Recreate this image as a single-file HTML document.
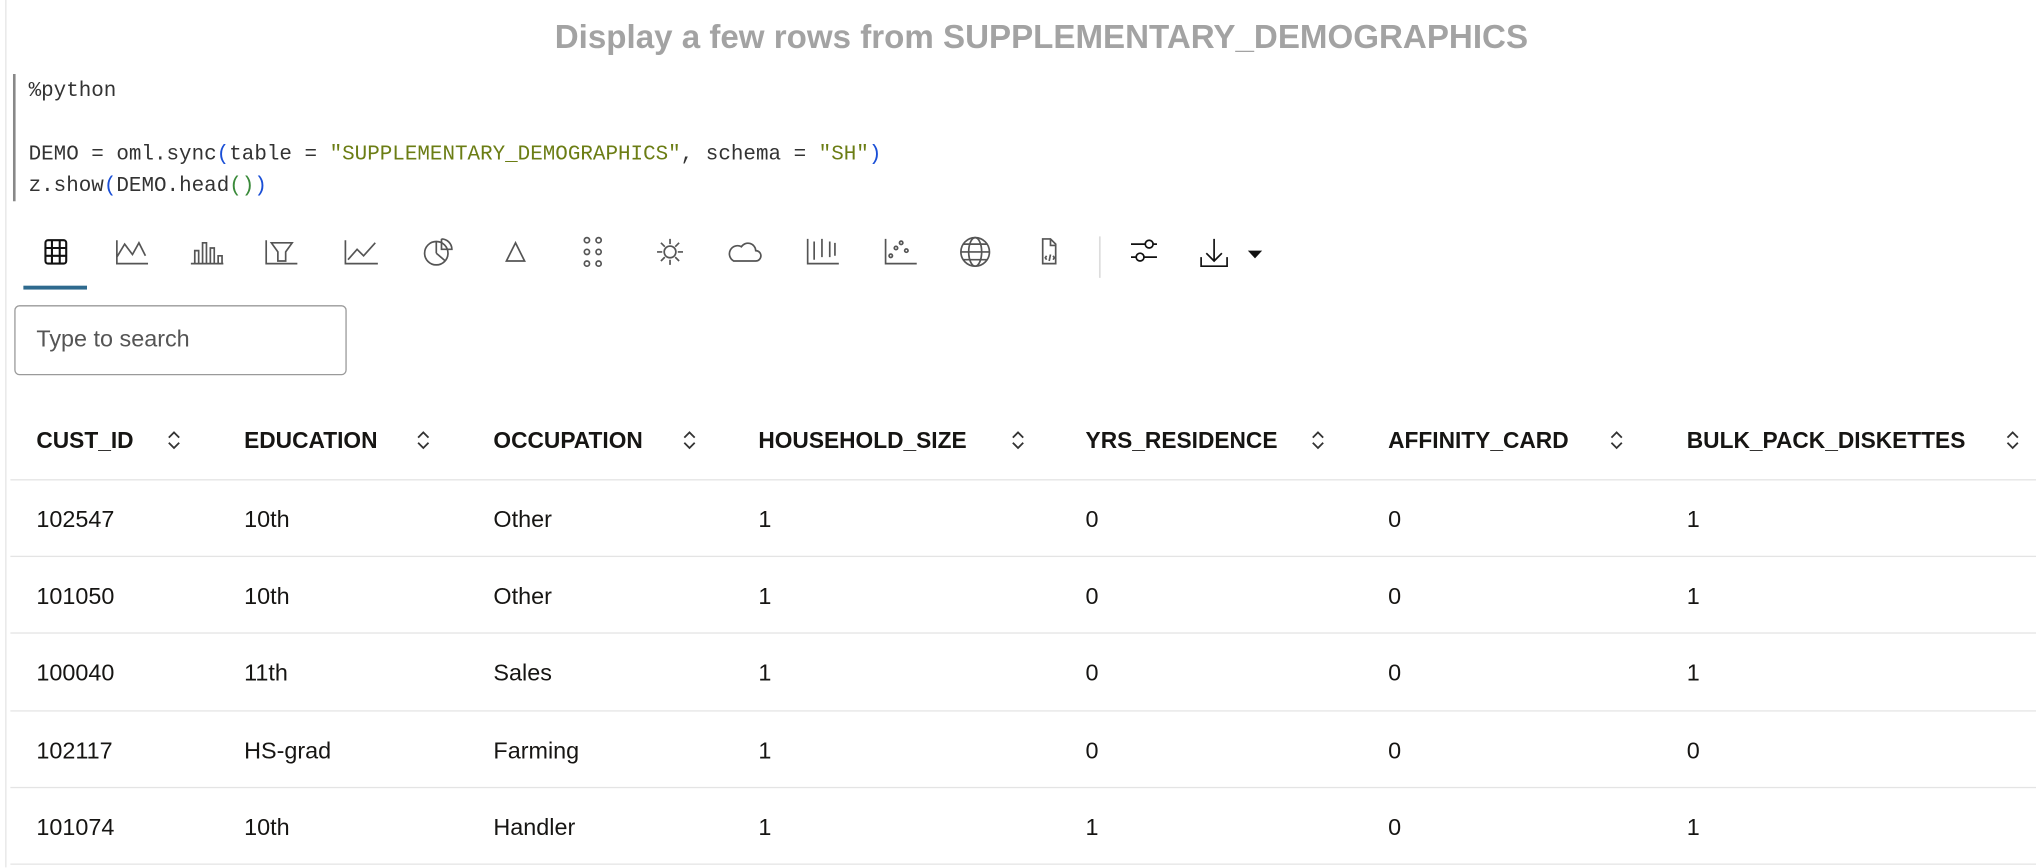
<!DOCTYPE html>
<html><head><meta charset="utf-8"><style>
html,body{margin:0;padding:0;background:#fff;width:2036px;height:868px;overflow:hidden}
#w{position:absolute;left:0;top:0;width:1568px;height:668px;transform:scale(1.2985);transform-origin:0 0;font-family:"Liberation Sans",sans-serif;color:#161513}
.a{position:absolute;white-space:nowrap}
.code{font-family:"Liberation Mono",monospace;font-size:16.1px;color:#333;left:22px}
.str{color:#6b7d14}.p1{color:#1a4fd6}.p2{color:#3a8a3a}
.h{font-weight:bold;font-size:17.5px;top:329px}
.c{font-size:18px}
.ln{position:absolute;left:8px;width:1560px;height:1px;background:#e4e4e4}
.sort{position:absolute;top:330px;width:14px;height:18px}
</style></head><body>
<div id="w">
<div class="a" style="left:4px;top:0;width:1px;height:668px;background:#e6e6e6"></div>
<div class="a" style="left:0;width:1604px;text-align:center;top:15px;font-size:25.5px;font-weight:bold;color:#a3a3a3">Display a few rows from SUPPLEMENTARY_DEMOGRAPHICS</div>
<div class="a" style="left:10px;top:57px;width:2px;height:98px;background:#888"></div>
<div>
<div class="a code" style="top:61px">%python</div>
<div class="a code" style="top:110px">DEMO = oml.sync<span class="p1">(</span>table = <span class="str">"SUPPLEMENTARY_DEMOGRAPHICS"</span>, schema = <span class="str">"SH"</span><span class="p1">)</span></div>
<div class="a code" style="top:134px">z.show<span class="p1">(</span>DEMO.head<span class="p2">()</span><span class="p1">)</span></div>
</div>
<svg class="a" style="left:0;top:170px" width="1000" height="60" fill="none" stroke="#555" stroke-width="1.3">
<g stroke="#111" stroke-width="1.6"><rect x="35" y="15" width="16" height="18" rx="2"/><path d="M35 21h16M35 27h16M40 15v18M46 15v18"/></g>
<rect x="18" y="50" width="49" height="3" fill="#2e6a8e" stroke="none"/>
<g><path d="M90 15v18h24M90 28l6-10 6 8 5-9 5 10"/></g>
<g><path d="M147 33h25M150 33v-10h3v10M156 33v-16h3v16M162 33v-12h3v12M168 33v-6h3v6"/></g>
<g><path d="M205 15v18h24M209 17h16l-5 7v7h-6v-7z"/></g>
<g><path d="M266 15v18h25M268 30l7-8 5 5 9-10"/></g>
<g><circle cx="336" cy="25" r="9"/><path d="M336 25v-9M336 25l7 6M340 14v8h8a8 8 0 0 0-8-8"/></g>
<g><path d="M397 17l-7 14h14z"/></g>
<g><circle cx="452" cy="15" r="2"/><circle cx="461" cy="15" r="2"/><circle cx="452" cy="24" r="2"/><circle cx="461" cy="24" r="2"/><circle cx="452" cy="33" r="2"/><circle cx="461" cy="33" r="2"/></g>
<g><circle cx="516" cy="24" r="4.5"/><path d="M516 14v4M516 30v4M506 24h4M522 24h4M509 17l3 3M520 28l3 3M523 17l-3 3M512 28l-3 3"/></g>
<g><path d="M565 31h17a4 4 0 0 0 0-8 6 6 0 0 0-11-3 5 5 0 0 0-6 11z"/></g>
<g><path d="M622 14v19h24M627 16v14M633 14v14M639 16v12M643 17v10"/></g>
<g><path d="M682 14v19h24"/><circle cx="686" cy="27" r="1.3"/><circle cx="690" cy="21" r="1.3"/><circle cx="694" cy="17" r="1.3"/><circle cx="698" cy="23" r="1.3"/></g>
<g><circle cx="751" cy="24" r="11"/><ellipse cx="751" cy="24" rx="5" ry="11"/><path d="M740 24h22M742 18h18M742 30h18"/></g>
<g><path d="M803 14h6l4 4v15h-10z M809 14v5h4"/><path d="M806 27l-1 1.5 1 1.5M811 27l1 1.5-1 1.5M809 26l-1 5"/></g>
<path d="M847 12v32" stroke="#ddd"/>
<g stroke="#111"><path d="M871 18h20M871 28h20"/><circle cx="885" cy="18" r="3" fill="#fff"/><circle cx="878" cy="28" r="3" fill="#fff"/></g>
<g stroke="#111"><path d="M935 14v17M929 25l6 6 6-6M925 28v7h20v-7"/><path d="M961 23h11l-5.5 6z" fill="#111" stroke="none"/></g>
</svg>
<div class="a" style="left:11px;top:235px;width:254px;height:52px;border:1px solid #9a9a9a;border-radius:4px"><span class="a" style="left:16px;top:15px;font-size:18px;color:#555">Type to search</span></div>
<div>
<div class="a h" style="left:28px">CUST_ID</div>
<div class="a h" style="left:188px">EDUCATION</div>
<div class="a h" style="left:380px">OCCUPATION</div>
<div class="a h" style="left:584px">HOUSEHOLD_SIZE</div>
<div class="a h" style="left:836px">YRS_RESIDENCE</div>
<div class="a h" style="left:1069px">AFFINITY_CARD</div>
<div class="a h" style="left:1299px">BULK_PACK_DISKETTES</div>
<svg class="sort" style="left:127px"><path d="M3 7l4-4 4 4M3 11l4 4 4-4" fill="none" stroke="#333" stroke-width="1.4"/></svg>
<svg class="sort" style="left:319px"><path d="M3 7l4-4 4 4M3 11l4 4 4-4" fill="none" stroke="#333" stroke-width="1.4"/></svg>
<svg class="sort" style="left:524px"><path d="M3 7l4-4 4 4M3 11l4 4 4-4" fill="none" stroke="#333" stroke-width="1.4"/></svg>
<svg class="sort" style="left:777px"><path d="M3 7l4-4 4 4M3 11l4 4 4-4" fill="none" stroke="#333" stroke-width="1.4"/></svg>
<svg class="sort" style="left:1008px"><path d="M3 7l4-4 4 4M3 11l4 4 4-4" fill="none" stroke="#333" stroke-width="1.4"/></svg>
<svg class="sort" style="left:1238px"><path d="M3 7l4-4 4 4M3 11l4 4 4-4" fill="none" stroke="#333" stroke-width="1.4"/></svg>
<svg class="sort" style="left:1543px"><path d="M3 7l4-4 4 4M3 11l4 4 4-4" fill="none" stroke="#333" stroke-width="1.4"/></svg>
<div id="rows"></div>
</div>
</div>
<script>
const custIds=["102547","101050","100040","102117","101074"];
const education=["10th","10th","11th","HS-grad","10th"];
const occupation=["Other","Other","Sales","Farming","Handler"];
const householdSize=["1","1","1","1","1"];
const yrsResidence=["0","0","0","0","1"];
const affinityCard=["0","0","0","0","0"];
const bulkPack=["1","1","1","0","1"];
const cols=[custIds,education,occupation,householdSize,yrsResidence,affinityCard,bulkPack];
const colNames=["cust-id","education","occupation","household-size","yrs-residence","affinity-card","bulk-pack-diskettes"];
const xs=[28,188,380,584,836,1069,1299];
const rowsEl=document.getElementById('rows');
for(let r=0;r<custIds.length;r++){
  const ln=document.createElement('div');
  ln.className='ln';ln.style.top=(369+r*59.2)+'px';
  
  
  rowsEl.appendChild(ln);
  for(let c=0;c<cols.length;c++){
    const d=document.createElement('div');
    d.className='a c';d.style.left=xs[c]+'px';d.style.top=(390+r*59.2)+'px';
    d.textContent=cols[c][r];
    
    
    rowsEl.appendChild(d);
  }
}
const last=document.createElement('div');
last.className='ln';last.style.top=(369+custIds.length*59.2)+'px';


rowsEl.appendChild(last);
</script>
</body></html>
